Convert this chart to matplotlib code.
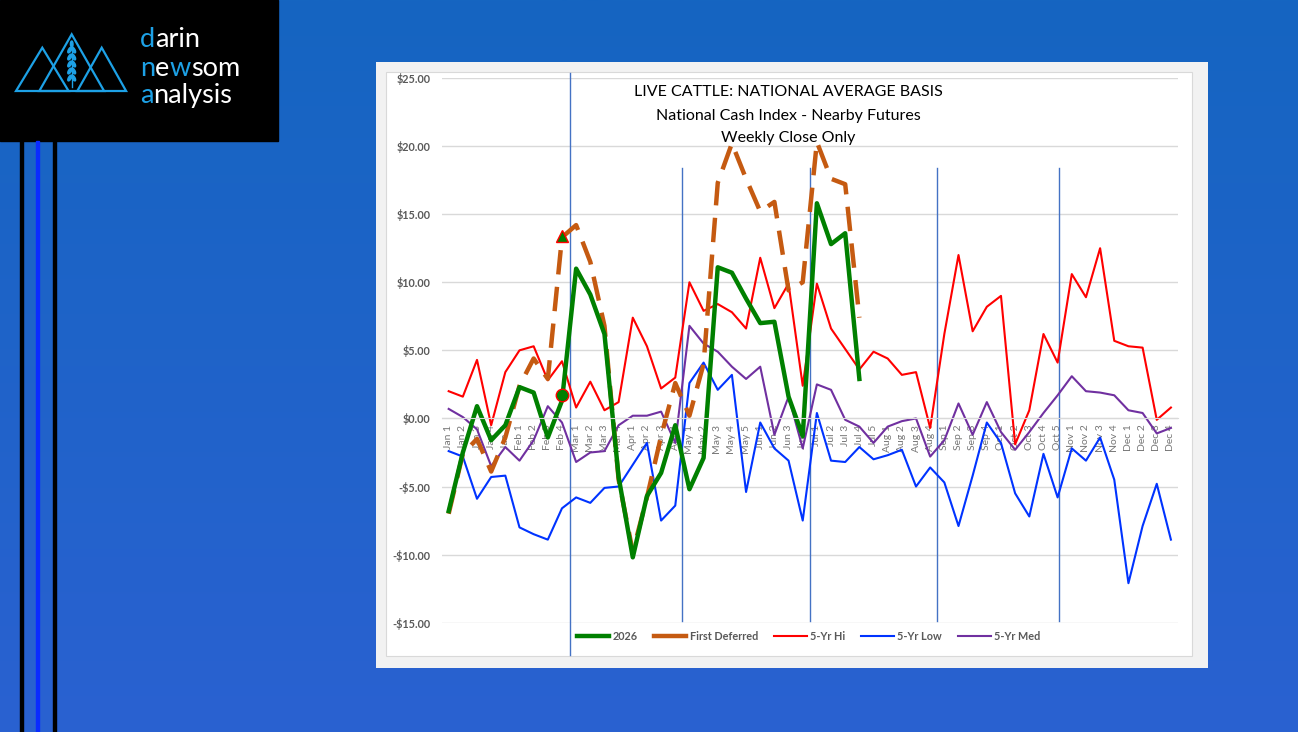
import numpy as np
import matplotlib.pyplot as plt
from matplotlib.patches import Rectangle, Polygon, Ellipse

plt.rcParams['font.family'] = ['Lato', 'DejaVu Sans']

weeks = ['Jan 1', 'Jan 2', 'Jan 3', 'Jan 4', 'Jan 5', 'Feb 1', 'Feb 2', 'Feb 3', 'Feb 4',
         'Mar 1', 'Mar 2', 'Mar 3', 'Mar 4', 'Apr 1', 'Apr 2', 'Apr 3', 'Apr 4',
         'May 1', 'May 2', 'May 3', 'May 4', 'May 5', 'Jun 1', 'Jun 2', 'Jun 3', 'Jun 4',
         'Jul 1', 'Jul 2', 'Jul 3', 'Jul 4', 'Jul 5', 'Aug 1', 'Aug 2', 'Aug 3', 'Aug 4',
         'Sep 1', 'Sep 2', 'Sep 3', 'Sep 4', 'Oct 1', 'Oct 2', 'Oct 3', 'Oct 4', 'Oct 5',
         'Nov 1', 'Nov 2', 'Nov 3', 'Nov 4', 'Dec 1', 'Dec 2', 'Dec 3', 'Dec 4']

basis_2026 = [-6.8, -2.5, 0.9, -1.6, -0.5, 2.3, 1.9, -1.4, 1.3,
              11.0, 9.1, 6.2, -4.3, -10.2, -5.7, -4.0, -0.5,
              -5.2, -2.9, 11.1, 10.7, 8.8, 7.0, 7.1, 1.6, -1.3,
              15.8, 12.8, 13.6, 2.9]

first_deferred = [-7.0, -2.6, -1.5, -3.9, -1.4, 2.4, 4.4, 2.9, 13.3,
                  14.2, 11.5, 6.8, -4.5, -9.8, -5.8, -1.3, 2.6,
                  0.2, 4.0, 17.3, 20.2, 17.6, 15.2, 15.9, 9.4, 10.0,
                  20.3, 17.6, 17.2, 7.4]

hi_5yr = [2.0, 1.6, 4.3, -0.5, 3.4, 5.0, 5.3, 2.8, 4.2,
          0.8, 2.7, 0.6, 1.2, 7.4, 5.3, 2.2, 3.0,
          10.0, 7.9, 8.4, 7.8, 6.6, 11.8, 8.1, 9.9, 2.4,
          9.9, 6.6, 5.1, 3.6, 4.9, 4.4, 3.2, 3.4, -0.7,
          6.2, 12.0, 6.4, 8.2, 9.0, -1.9, 0.6, 6.2, 4.1,
          10.6, 8.9, 12.5, 5.7, 5.3, 5.2, -0.1, 0.8]

low_5yr = [-2.4, -2.8, -5.9, -4.3, -4.2, -8.0, -8.5, -8.9, -6.6,
           -5.8, -6.2, -5.1, -5.0, -3.4, -1.8, -7.5, -6.4,
           2.6, 4.1, 2.1, 3.2, -5.4, -0.3, -2.2, -3.1, -7.5,
           0.4, -3.1, -3.2, -2.1, -3.0, -2.7, -2.3, -5.0, -3.6,
           -4.7, -7.9, -4.2, -0.3, -1.8, -5.5, -7.2, -2.6, -5.8,
           -2.2, -3.1, -1.4, -4.5, -12.1, -7.9, -4.8, -8.9]

med_5yr = [0.7, 0.1, -0.8, -3.5, -2.1, -3.1, -1.6, 0.9, -0.3,
           -3.2, -2.5, -2.4, -0.5, 0.2, 0.2, 0.5, -1.8,
           6.8, 5.5, 4.9, 3.8, 2.9, 3.8, -1.2, 1.6, -2.2,
           2.5, 2.1, -0.1, -0.6, -1.8, -0.6, -0.2, 0.0, -2.8,
           -1.6, 1.1, -1.2, 1.2, -1.0, -2.3, -1.0, 0.4, 1.7,
           3.1, 2.0, 1.9, 1.7, 0.6, 0.4, -1.1, -0.7]

flag_week = 'Feb 4'
flag_values = [13.4, 1.7]          # triangle, circle
month_breaks = [8.6, 16.5, 25.5, 34.45, 43.1]
y_ticks = [-15, -10, -5, 0, 5, 10, 15, 20, 25]

W, H = 1298, 732
fig = plt.figure(figsize=(W / 100, H / 100), dpi=100)
renderer = fig.canvas.get_renderer()

# ---- slide background (pixel coords) ----
bg = fig.add_axes([0, 0, 1, 1])
top = np.array([21, 101, 193]) / 255
bottom = np.array([42, 97, 209]) / 255
t = np.linspace(0, 1, 256)[:, None, None]
bg.imshow(top + (bottom - top) * t, extent=[0, W, H, 0], aspect='auto')
bg.set_xlim(0, W)
bg.set_ylim(H, 0)
bg.axis('off')

bg.add_patch(Rectangle((0, 0), 278, 141, color='black'))
for lx, c in [(20, 'black'), (36, '#0A2BFF'), (53, 'black')]:
    bg.add_patch(Rectangle((lx, 141), 3, H - 141, color=c))

logo_blue = '#1DA1E6'
for tri in [[(16, 91), (42.3, 47.7), (68.6, 91)],
            [(39.3, 91), (71.7, 34.3), (104.1, 91)],
            [(77.3, 91), (101.7, 47.7), (126.1, 91)]]:
    bg.add_patch(Polygon(tri, closed=True, fill=False, ec=logo_blue, lw=1.6))
bg.plot([71.7, 71.7], [44, 87], color=logo_blue, lw=1)
for yy in [50, 57, 64, 71, 78]:
    bg.add_patch(Ellipse((69.8, yy), 2.8, 6.5, angle=30, color=logo_blue))
    bg.add_patch(Ellipse((73.6, yy), 2.8, 6.5, angle=-30, color=logo_blue))
bg.add_patch(Ellipse((71.7, 44), 2.6, 6, color=logo_blue))


def logo_word(pieces, x0, y0):
    # write a word piece by piece so single letters can be coloured
    xx = x0
    for txt, col in pieces:
        tt = bg.text(xx, y0, txt, color=col, fontsize=19.5, va='baseline', ha='left')
        bb = tt.get_window_extent(renderer)
        xx = bg.transData.inverted().transform((bb.x1, bb.y0))[0]


logo_word([('d', logo_blue), ('arin', 'white')], 140, 47)
logo_word([('n', logo_blue), ('e', 'white'), ('w', logo_blue), ('som', 'white')], 140, 76)
logo_word([('a', logo_blue), ('nalysis', 'white')], 140, 103)

# chart panel
bg.add_patch(Rectangle((376, 62), 832, 606, fc='#F2F2F2', ec='none'))
bg.add_patch(Rectangle((386, 72), 806, 584, fc='white', ec='#D9D9D9', lw=0.8))

# ---- chart ----
ax = fig.add_axes([441.6 / W, 1 - 622.7 / H, (1178 - 441.6) / W, (622.7 - 78) / H])
ax.set_facecolor('none')
x = np.arange(len(weeks))

ax.plot(x, hi_5yr, color='#FF0000', lw=1.5, label='5-Yr Hi')
ax.plot(x, low_5yr, color='#0033FF', lw=1.5, label='5-Yr Low')
ax.plot(x, med_5yr, color='#7030A0', lw=1.5, label='5-Yr Med')
ax.plot(x[:len(first_deferred)], first_deferred, color='#C55A11', lw=3.2,
        dashes=(5.5, 2.8), label='First Deferred')
ax.plot(x[:len(basis_2026)], basis_2026, color='#008000', lw=3.2,
        solid_joinstyle='round', label='2026')

fi = weeks.index(flag_week)
ax.plot(fi, flag_values[0], marker='^', ms=9, mfc='#008000', mec='red', mew=1, zorder=5)
ax.plot(fi, flag_values[1], marker='o', ms=9, mfc='#008000', mec='red', mew=1, zorder=5)

for k, xb in enumerate(month_breaks):
    y0, y1 = (-17.4, 25.4) if k == 0 else (-14.9, 18.4)
    ax.plot([xb, xb], [y0, y1], color='#4472C4', lw=1, clip_on=False, zorder=1)

ax.set_xlim(-0.5, len(weeks) - 0.5)
ax.set_ylim(-15, 25)
ax.set_yticks(y_ticks)
ax.set_yticklabels([f'${v:.2f}' if v >= 0 else f'-${-v:.2f}' for v in y_ticks])
for lab in ax.get_yticklabels():
    lab.set_fontweight('bold')
ax.yaxis.grid(True, color='#D9D9D9', lw=1)
ax.set_axisbelow(True)
for s in ['top', 'right', 'left']:
    ax.spines[s].set_visible(False)
ax.spines['bottom'].set_position(('data', 0))
ax.spines['bottom'].set_color('#D9D9D9')
ax.set_xticks(x)
ax.set_xticklabels(weeks, rotation=90)
ax.tick_params(axis='x', length=0, pad=4.5, labelsize=7.5, labelcolor='#767676')
ax.tick_params(axis='y', length=0, pad=8, labelsize=7.8, labelcolor='#595959')

title_lines = ['LIVE CATTLE: NATIONAL AVERAGE BASIS',
               'National Cash Index - Nearby Futures',
               'Weekly Close Only']
for txt, yy in zip(title_lines, [0.9743, 0.9302, 0.8898]):
    ax.text(0.4704, yy, txt, transform=ax.transAxes, ha='center', va='center',
            fontsize=11.5, color='black')

h, l = ax.get_legend_handles_labels()
order = [4, 3, 0, 1, 2]
leg = ax.legend([h[i] for i in order], [l[i] for i in order], loc='center',
                bbox_to_anchor=(0.498, -0.0257), ncol=5, frameon=False,
                prop={'weight': 'bold', 'size': 7.8}, labelcolor='#595959',
                handlelength=3, handletextpad=0.3, columnspacing=1.5)
leg.get_lines()[1].set_linestyle('-')

fig.savefig('out.png', dpi=100)
